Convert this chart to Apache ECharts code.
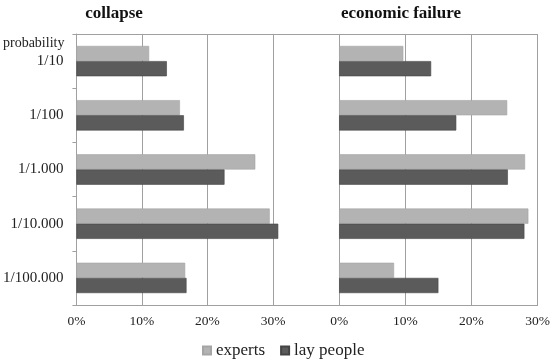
<!DOCTYPE html>
<html>
<head>
<meta charset="utf-8">
<script src="https://cdn.jsdelivr.net/npm/echarts@6/dist/echarts.min.js"></script>
<style>
  html, body { margin: 0; padding: 0; background: #fff; }
  #chart { width: 553px; height: 361px; }
</style>
</head>
<body>
<div id="chart"></div>
<script>
// probability classes (top to bottom)
const categories = ["1/10", "1/100", "1/1.000", "1/10.000", "1/100.000"];

// collapse, in percent
const collapseExperts = [11.1, 15.8, 27.3, 29.5, 16.6];
const collapseLay = [13.8, 16.4, 22.6, 30.8, 16.8];

// economic failure, in percent
const failureExperts = [9.7, 25.4, 28.1, 28.6, 8.3];
const failureLay = [13.9, 17.7, 25.5, 28.0, 15.0];

const FONT = "Liberation Serif";
const LINE = "#a0a0a0";
const NONE = "rgba(0,0,0,0)";
const EXPERTS = "#b3b3b3";
const LAY = "#5b5b5b";

const chart = echarts.init(document.getElementById("chart"));

// bottom value axis of a panel
function xAxisFor(gridIndex, min, splitColors) {
  return {
    type: "value",
    gridIndex: gridIndex,
    min: min,
    max: 30,
    interval: 10,
    axisLine: { show: true, onZero: false, lineStyle: { color: LINE } },
    axisTick: { show: false },
    splitLine: { show: true, lineStyle: { color: splitColors } },
    axisLabel: {
      fontFamily: FONT,
      fontSize: 13.5,
      color: "#222",
      margin: 9,
      formatter: (v) => (v < 0 ? "" : v + "%"),
    },
  };
}

// top border line of a panel
function topAxisFor(gridIndex, min) {
  return {
    type: "value",
    gridIndex: gridIndex,
    position: "top",
    min: min,
    max: 30,
    interval: 10,
    axisLine: { show: true, onZero: false, lineStyle: { color: LINE } },
    axisTick: { show: false },
    axisLabel: { show: false },
    splitLine: { show: false },
  };
}

function barSeries(name, data, color, border, axis) {
  return {
    name: name,
    type: "bar",
    xAxisIndex: axis,
    yAxisIndex: axis,
    data: data,
    clip: false,
    barGap: "0%",
    barCategoryGap: "44%",
    itemStyle: { color: color, borderColor: border, borderWidth: 0.6 },
    emphasis: { disabled: true },
  };
}

const options = {
  animation: false,
  title: [
    {
      text: "collapse",
      left: 109,
      top: 0,
      textAlign: "center",
      textStyle: { fontFamily: FONT, fontSize: 17, fontWeight: "bold", color: "#111" },
    },
    {
      text: "economic failure",
      left: 396,
      top: 0,
      textAlign: "center",
      textStyle: { fontFamily: FONT, fontSize: 17, fontWeight: "bold", color: "#111" },
    },
  ],
  legend: {
    data: ["experts", "lay people"],
    left: 197,
    top: 337,
    itemWidth: 8,
    itemHeight: 8,
    itemGap: 15,
    icon: "rect",
    textStyle: { fontFamily: FONT, fontSize: 17, color: "#222" },
  },
  grid: [
    { left: 75, right: 280, top: 34, bottom: 56 },
    { left: 273, right: 14, top: 34, bottom: 56 },
  ],
  xAxis: [
    xAxisFor(0, 0, [LINE]),
    // right panel starts at -10 so its frame meets the left one; that first gridline is hidden
    xAxisFor(1, -10, [NONE, LINE, LINE, LINE, LINE]),
    topAxisFor(0, 0),
    topAxisFor(1, -10),
  ],
  yAxis: [
    {
      type: "category",
      gridIndex: 0,
      data: categories,
      inverse: true,
      name: "probability",
      nameLocation: "start",
      nameGap: -9,
      nameTextStyle: {
        fontFamily: FONT,
        fontSize: 14,
        color: "#222",
        align: "right",
        verticalAlign: "middle",
        padding: [0, 12, 0, 0],
      },
      axisLine: { show: true, lineStyle: { color: LINE } },
      axisTick: { show: true, length: 4, lineStyle: { color: LINE } },
      axisLabel: { fontFamily: FONT, fontSize: 15, color: "#222", margin: 13 },
    },
    {
      type: "category",
      gridIndex: 1,
      data: categories,
      inverse: true,
      axisLine: { show: false },
      axisTick: { show: false },
      axisLabel: { show: false },
    },
  ],
  series: [
    barSeries("experts", collapseExperts, EXPERTS, "#a5a5a5", 0),
    barSeries("lay people", collapseLay, LAY, "#444", 0),
    barSeries("experts", failureExperts, EXPERTS, "#a5a5a5", 1),
    barSeries("lay people", failureLay, LAY, "#444", 1),
  ],
};

chart.setOption(options);
</script>
</body>
</html>
